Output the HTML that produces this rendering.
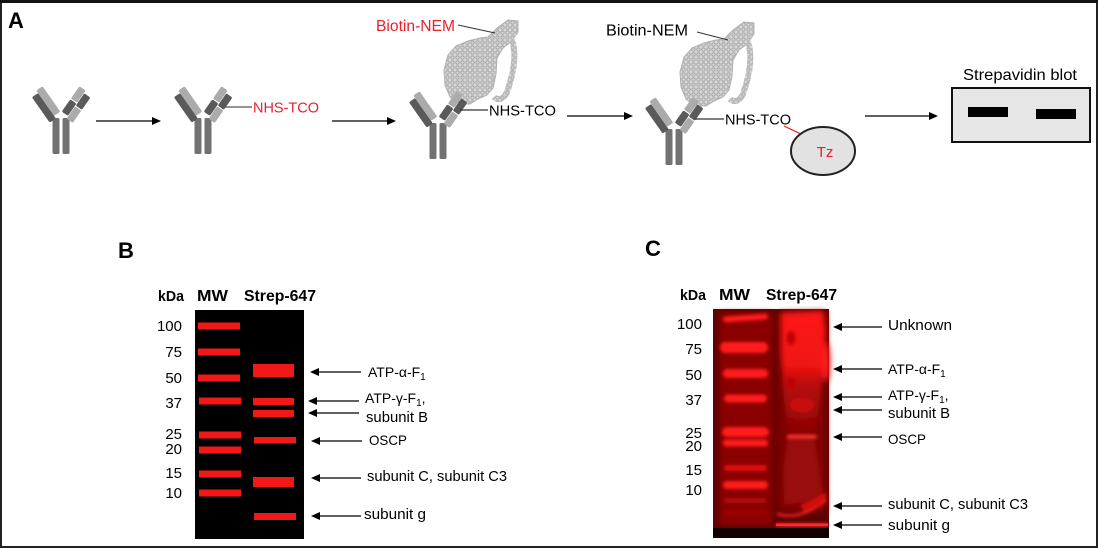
<!DOCTYPE html>
<html><head><meta charset="utf-8"><style>
html,body{margin:0;padding:0;background:#fff;}
svg{display:block;}
text{font-family:"Liberation Sans",sans-serif;}
</style></head><body>
<svg width="1098" height="548" viewBox="0 0 1098 548" xmlns="http://www.w3.org/2000/svg" xmlns:xlink="http://www.w3.org/1999/xlink">
<defs>
  <pattern id="prot" width="5" height="5" patternUnits="userSpaceOnUse">
    <rect width="5" height="5" fill="#d6d6d6"/>
    <circle cx="2.5" cy="2.5" r="1.7" fill="none" stroke="#9c9c9c" stroke-width="0.8"/>
  </pattern>
  <filter id="blur1" x="-20%" y="-50%" width="140%" height="200%"><feGaussianBlur stdDeviation="1.6"/></filter>
  <filter id="blur2" x="-20%" y="-20%" width="140%" height="140%"><feGaussianBlur stdDeviation="3"/></filter>
  <linearGradient id="smear" x1="0" y1="0" x2="0" y2="1">
    <stop offset="0" stop-color="#ff1a1a"/>
    <stop offset="0.45" stop-color="#f01212"/>
    <stop offset="0.6" stop-color="#b80a0a"/>
    <stop offset="1" stop-color="#8a0505"/>
  </linearGradient>
  <g id="ab">
    <rect x="-8.5" y="0" width="7" height="36" rx="1.5" fill="#727272"/>
    <rect x="1.5" y="0" width="7" height="36" rx="1.5" fill="#727272"/>
    <g transform="translate(-4,2) rotate(-35)">
      <rect x="-7.5" y="-33" width="7.5" height="31" rx="1.5" fill="#5a5a5a"/>
      <rect x="0" y="-36" width="7.5" height="31" rx="1.5" fill="#ababab"/>
    </g>
    <g transform="translate(4,2) rotate(35)">
      <rect x="-7.5" y="-36" width="7.5" height="15" rx="1.5" fill="#ababab"/>
      <rect x="-7.5" y="-20" width="7.5" height="15" rx="1.5" fill="#5a5a5a"/>
      <rect x="0.5" y="-33" width="7.5" height="15" rx="1.5" fill="#5a5a5a"/>
      <rect x="0.5" y="-17" width="7.5" height="15" rx="1.5" fill="#ababab"/>
    </g>
  </g>
  <g id="blob">
    <path d="M488,37 L497,28 L508,20 L518,21 L518,32 L511,42 L503,48 L497,58 L496,74 L493,88 L487,95 L478,99 L470,104 L459,104 L450,97 L445,85 L444,70 L448,55 L456,46 L468,41 L480,38 Z" fill="url(#prot)" stroke="#b0b0b0" stroke-width="1"/>
    <path d="M512,40 C517,55 513,75 507,92 C504,99 498,101 494,97" fill="none" stroke="url(#prot)" stroke-width="6"/>
    <path d="M512,40 C517,55 513,75 507,92 C504,99 498,101 494,97" fill="none" stroke="#b8b8b8" stroke-width="1" opacity="0.6"/>
  </g>
</defs>

<!-- frame -->
<rect x="1" y="1" width="1096" height="546" fill="#fff" stroke="#222" stroke-width="2"/>
<line x1="0" y1="1.5" x2="1098" y2="1.5" stroke="#111" stroke-width="3"/>

<!-- ===== Panel A ===== -->
<text x="8" y="28" font-size="22" font-weight="bold" fill="#000">A</text>

<use href="#ab" xlink:href="#ab" transform="translate(61,118)"/>
<line x1="96" y1="121" x2="152" y2="121" stroke="#000" stroke-width="1.3"/>
<polygon points="161,121 152,117 152,125" fill="#000"/>

<use href="#ab" xlink:href="#ab" transform="translate(203,118)"/>
<line x1="223" y1="107" x2="252" y2="107" stroke="#555" stroke-width="1.3"/>
<text x="253" y="112.5" font-size="15" fill="#e8202a" textLength="66" lengthAdjust="spacingAndGlyphs">NHS-TCO</text>
<line x1="332" y1="121" x2="387" y2="121" stroke="#000" stroke-width="1.3"/>
<polygon points="396,121 387,117 387,125" fill="#000"/>

<!-- third -->
<use href="#blob" xlink:href="#blob"/>
<text x="376" y="31" font-size="15.5" fill="#e8202a" textLength="79" lengthAdjust="spacingAndGlyphs">Biotin-NEM</text>
<line x1="458" y1="25" x2="495" y2="33" stroke="#333" stroke-width="1"/>
<use href="#ab" xlink:href="#ab" transform="translate(438,123)"/>
<line x1="460" y1="110" x2="488" y2="110" stroke="#333" stroke-width="1.3"/>
<text x="489" y="115.5" font-size="15" fill="#000" textLength="67" lengthAdjust="spacingAndGlyphs">NHS-TCO</text>
<line x1="567" y1="116" x2="624" y2="116" stroke="#000" stroke-width="1.3"/>
<polygon points="633,116 624,112 624,120" fill="#000"/>

<!-- fourth -->
<g transform="translate(236,2)"><use href="#blob" xlink:href="#blob"/></g>
<text x="606" y="35.5" font-size="15.5" fill="#000" textLength="82" lengthAdjust="spacingAndGlyphs">Biotin-NEM</text>
<line x1="697" y1="32" x2="728" y2="40" stroke="#333" stroke-width="1"/>
<use href="#ab" xlink:href="#ab" transform="translate(674,129)"/>
<line x1="695" y1="119" x2="724" y2="119" stroke="#333" stroke-width="1.3"/>
<text x="725" y="124.5" font-size="15" fill="#000" textLength="66" lengthAdjust="spacingAndGlyphs">NHS-TCO</text>
<line x1="784" y1="126" x2="803" y2="135" stroke="#e8202a" stroke-width="1.2"/>
<ellipse cx="823" cy="151" rx="32" ry="24" fill="#e2e2e2" stroke="#222" stroke-width="2"/>
<text x="825" y="157" font-size="15" fill="#e8202a" text-anchor="middle">Tz</text>
<line x1="865" y1="116" x2="929" y2="116" stroke="#000" stroke-width="1.3"/>
<polygon points="938,116 929,112 929,120" fill="#000"/>

<text x="963" y="80" font-size="16" fill="#000" textLength="114" lengthAdjust="spacingAndGlyphs">Strepavidin blot</text>
<rect x="952" y="88" width="138" height="54" fill="#e6e6e6" stroke="#111" stroke-width="2"/>
<rect x="968" y="107" width="40" height="10" fill="#000"/>
<rect x="1036" y="109" width="40" height="10" fill="#000"/>

<!-- ===== Panel B ===== -->
<text x="118" y="258" font-size="22" font-weight="bold" fill="#000">B</text>
<text x="158" y="301" font-size="15" font-weight="bold" textLength="26" lengthAdjust="spacingAndGlyphs">kDa</text>
<text x="197" y="301" font-size="16" font-weight="bold" textLength="31" lengthAdjust="spacingAndGlyphs">MW</text>
<text x="244" y="301" font-size="16" font-weight="bold" textLength="72" lengthAdjust="spacingAndGlyphs">Strep-647</text>

<g font-size="15" text-anchor="end" fill="#000">
  <text x="182" y="331">100</text>
  <text x="182" y="357">75</text>
  <text x="182" y="383">50</text>
  <text x="182" y="408">37</text>
  <text x="182" y="439">25</text>
  <text x="182" y="454">20</text>
  <text x="182" y="478">15</text>
  <text x="182" y="498">10</text>
</g>

<rect x="195" y="310" width="109" height="229" fill="#000"/>
<g fill="#f21818">
  <rect x="198" y="322.5" width="42" height="7"/>
  <rect x="198" y="348.5" width="42" height="7"/>
  <rect x="198" y="374.5" width="42" height="7"/>
  <rect x="199" y="397.5" width="42" height="7"/>
  <rect x="199" y="431.5" width="42" height="7"/>
  <rect x="199" y="446.5" width="42" height="7"/>
  <rect x="199" y="470.5" width="42" height="7"/>
  <rect x="199" y="489.5" width="42" height="7"/>
  <rect x="253" y="364" width="41" height="13"/>
  <rect x="253" y="398" width="41" height="7"/>
  <rect x="253" y="410" width="41" height="7"/>
  <rect x="254" y="437" width="42" height="6.5"/>
  <rect x="253" y="477" width="41" height="10"/>
  <rect x="254" y="513" width="42" height="7"/>
</g>

<g stroke="#000" stroke-width="1.2">
  <line x1="317" y1="372" x2="361" y2="372"/>
  <line x1="316" y1="401" x2="359" y2="401"/>
  <line x1="316" y1="413" x2="359" y2="413"/>
  <line x1="318" y1="441" x2="362" y2="441"/>
  <line x1="318" y1="478" x2="361" y2="478"/>
  <line x1="318" y1="516" x2="361" y2="516"/>
</g>
<g fill="#000">
  <polygon points="310,372 319,368 319,376"/>
  <polygon points="308,401 317,397 317,405"/>
  <polygon points="308,413 317,409 317,417"/>
  <polygon points="311,441 320,437 320,445"/>
  <polygon points="311,478 320,474 320,482"/>
  <polygon points="311,516 320,512 320,520"/>
</g>
<g font-size="15" fill="#000">
  <text x="368" y="377" font-size="14">ATP-α-F<tspan font-size="10" dy="3">1</tspan></text>
  <text x="365" y="403" font-size="14">ATP-γ-F<tspan font-size="10" dy="3">1</tspan><tspan dy="-3">,</tspan></text>
  <text x="366" y="422" textLength="62" lengthAdjust="spacingAndGlyphs">subunit B</text>
  <text x="369" y="445" font-size="14" textLength="38" lengthAdjust="spacingAndGlyphs">OSCP</text>
  <text x="367" y="481" textLength="140" lengthAdjust="spacingAndGlyphs">subunit C, subunit C3</text>
  <text x="364" y="519" textLength="62" lengthAdjust="spacingAndGlyphs">subunit g</text>
</g>

<!-- ===== Panel C ===== -->
<text x="645" y="256" font-size="22" font-weight="bold" fill="#000">C</text>
<text x="680" y="300" font-size="15" font-weight="bold" textLength="26" lengthAdjust="spacingAndGlyphs">kDa</text>
<text x="719" y="300" font-size="16" font-weight="bold" textLength="31" lengthAdjust="spacingAndGlyphs">MW</text>
<text x="766" y="300" font-size="16" font-weight="bold" textLength="71" lengthAdjust="spacingAndGlyphs">Strep-647</text>

<g font-size="15" text-anchor="end" fill="#000">
  <text x="702" y="329">100</text>
  <text x="702" y="354">75</text>
  <text x="702" y="380">50</text>
  <text x="702" y="405">37</text>
  <text x="702" y="438">25</text>
  <text x="702" y="451">20</text>
  <text x="702" y="475">15</text>
  <text x="702" y="495">10</text>
</g>

<!-- gel C -->
<rect x="713" y="309" width="116" height="229" fill="#5a0202"/>
<g filter="url(#blur2)">
  <rect x="719" y="312" width="54" height="214" fill="#8a0606"/>
  <rect x="777" y="312" width="50" height="200" fill="#7e0505"/>
</g>
<g filter="url(#blur2)">
  <path d="M781,313 L823,311 L826,330 L822,380 L818,420 L812,434 L788,434 L784,400 L781,350 Z" fill="url(#smear)"/>
  <path d="M788,434 L814,434 L820,470 L824,500 L784,505 L783,470 Z" fill="#9a0808"/>
  <ellipse cx="826" cy="362" rx="4" ry="20" fill="#ff1a1a"/>
</g>
<g filter="url(#blur1)">
  <ellipse cx="791" cy="338" rx="4.5" ry="7" fill="#c00606"/>
  <ellipse cx="791" cy="383" rx="4" ry="6" fill="#c00606"/>
  <ellipse cx="802" cy="405" rx="12" ry="8" fill="#c80808"/>
  <rect x="787" y="435" width="30" height="3.5" fill="#ff3030"/>
  <path d="M777,514 Q800,521 826,500" fill="none" stroke="#ff2020" stroke-width="2.5"/>
  <path d="M804,512 Q818,508 826,498 L826,492 Q812,500 800,505 Z" fill="#d01010"/>
  <rect x="776" y="523.5" width="52" height="3" fill="#ff3030"/>
  <!-- MW bands -->
  <rect x="723" y="315" width="45" height="6" rx="3" fill="#ff1a1a" transform="rotate(-4 745 318)"/>
  <rect x="720" y="342" width="48" height="11" rx="5" fill="#ff1a1a"/>
  <rect x="723" y="369" width="45" height="9" rx="4" fill="#ff1a1a"/>
  <rect x="724" y="394.5" width="43" height="8" rx="4" fill="#ff1a1a"/>
  <rect x="722" y="427" width="47" height="10" rx="5" fill="#ff1a1a"/>
  <rect x="723" y="439.5" width="45" height="7" rx="3" fill="#ff1a1a"/>
  <rect x="724" y="465" width="43" height="6" rx="3" fill="#e01010"/>
  <rect x="723" y="481" width="45" height="8" rx="4" fill="#ff1a1a"/>
  <rect x="724" y="498" width="42" height="5" rx="2" fill="#b00808"/>
  <rect x="724" y="510" width="42" height="5" rx="2" fill="#a00606"/>
</g>
<rect x="713" y="528" width="116" height="10" fill="#140000"/>
<rect x="776" y="523.5" width="52" height="2.5" fill="#ff2a2a"/>

<g stroke="#000" stroke-width="1.2">
  <line x1="840" y1="327" x2="882" y2="327"/>
  <line x1="840" y1="369" x2="882" y2="369"/>
  <line x1="840" y1="397" x2="882" y2="397"/>
  <line x1="840" y1="410" x2="882" y2="410"/>
  <line x1="840" y1="437" x2="882" y2="437"/>
  <line x1="840" y1="506" x2="882" y2="506"/>
  <line x1="840" y1="525" x2="882" y2="525"/>
</g>
<g fill="#000">
  <polygon points="833,327 842,323 842,331"/>
  <polygon points="833,369 842,365 842,373"/>
  <polygon points="833,397 842,393 842,401"/>
  <polygon points="833,410 842,406 842,414"/>
  <polygon points="833,437 842,433 842,441"/>
  <polygon points="833,506 842,502 842,510"/>
  <polygon points="833,525 842,521 842,529"/>
</g>
<g font-size="15" fill="#000">
  <text x="888" y="330" textLength="64" lengthAdjust="spacingAndGlyphs">Unknown</text>
  <text x="888" y="374" font-size="14">ATP-α-F<tspan font-size="10" dy="3">1</tspan></text>
  <text x="888" y="400" font-size="14">ATP-γ-F<tspan font-size="10" dy="3">1</tspan><tspan dy="-3">,</tspan></text>
  <text x="888" y="418" textLength="62" lengthAdjust="spacingAndGlyphs">subunit B</text>
  <text x="888" y="444" font-size="14" textLength="38" lengthAdjust="spacingAndGlyphs">OSCP</text>
  <text x="888" y="509" textLength="140" lengthAdjust="spacingAndGlyphs">subunit C, subunit C3</text>
  <text x="888" y="530" textLength="62" lengthAdjust="spacingAndGlyphs">subunit g</text>
</g>
</svg>
</body></html>
